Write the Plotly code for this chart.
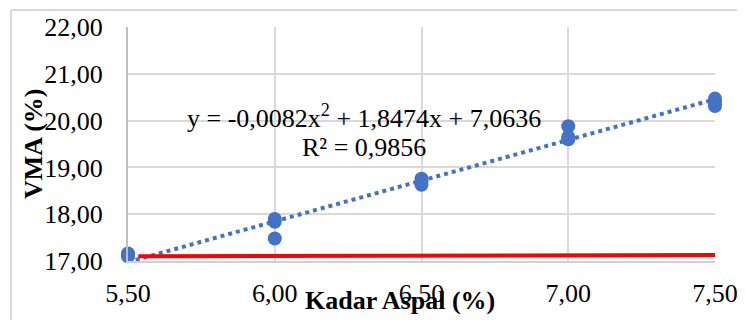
import numpy as np
import plotly.graph_objects as go

# ---- data ----
kadar_aspal = [5.5, 5.5, 5.5, 6.0, 6.0, 6.0, 6.5, 6.5, 6.5, 7.0, 7.0, 7.0, 7.5, 7.5, 7.5]
vma_values = [17.16, 17.12, 17.10, 17.90, 17.84, 17.48, 18.76, 18.70, 18.63,
              19.88, 19.65, 19.60, 20.47, 20.40, 20.31]
trend_coef = [-0.0082, 1.8474, 7.0636]        # quadratic trendline (Excel)
spec_x = [5.535, 7.5]                          # red specification line
spec_y = [17.10, 17.13]
x_ticks = [5.5, 6.0, 6.5, 7.0, 7.5]
x_tick_labels = ["5,50", "6,00", "6,50", "7,00", "7,50"]
y_ticks = [17, 18, 19, 20, 21, 22]
y_tick_labels = ["17,00", "18,00", "19,00", "20,00", "21,00", "22,00"]
eq_line1 = "y = -0,0082x<sup>2</sup> + 1,8474x + 7,0636"
eq_line2 = "R² = 0,9856"

FONT = "Liberation Serif, Times New Roman, serif"
BLUE = "#4472C4"

tx = np.linspace(min(x_ticks), max(x_ticks), 200)
ty = np.polyval(trend_coef, tx)

fig = go.Figure()
fig.add_trace(go.Scatter(x=tx, y=ty, mode="lines",
                         line=dict(color=BLUE, width=4, dash="dot"),
                         hoverinfo="skip", showlegend=False))
fig.add_trace(go.Scatter(x=kadar_aspal, y=vma_values, mode="markers",
                         marker=dict(color=BLUE, size=14, line=dict(width=0)),
                         cliponaxis=False, showlegend=False))
fig.add_trace(go.Scatter(x=spec_x, y=spec_y, mode="lines",
                         line=dict(color="#FF0000", width=4),
                         cliponaxis=False, showlegend=False))

# page body has an 8px margin: figure pixel = page pixel - 8
OFF = 8
W, H = 745, 320
P_L, P_R, P_T, P_B = 128, 715, 27, 261   # plot area in page pixels
L = P_L - OFF
T = P_T - OFF
R = W - (P_R - OFF)
B = H - (P_B - OFF)
pw, ph = W - L - R, H - T - B

def px_x(px):
    return (px - P_L) / pw

def px_y(py):
    return (P_B - py) / ph

fig.update_layout(
    width=W, height=H, autosize=False,
    margin=dict(l=L, r=R, t=T, b=B, pad=0),
    paper_bgcolor="white", plot_bgcolor="white",
    font=dict(family=FONT, size=26, color="black"),
    showlegend=False,
    xaxis=dict(range=[5.5, 7.5], tickvals=x_ticks, ticktext=x_tick_labels,
               showgrid=True, gridcolor="#d9d9d9", gridwidth=2,
               zeroline=False, showline=True, linecolor="#d0d0d0", linewidth=2,
               ticks="", ticklabelstandoff=8, automargin=False,
               tickfont=dict(family=FONT, size=26, color="black")),
    yaxis=dict(range=[17, 22], tickvals=y_ticks, ticktext=y_tick_labels,
               showgrid=True, gridcolor="#d9d9d9", gridwidth=2,
               zeroline=False, showline=True, linecolor="#bfbfbf", linewidth=2,
               ticks="", ticklabelstandoff=18, automargin=False,
               tickfont=dict(family=FONT, size=26, color="black")),
)

# outer chart border (only top/left visible in reference)
fig.add_shape(type="rect", xref="paper", yref="paper",
              x0=px_x(11), y0=px_y(360), x1=px_x(780), y1=px_y(10),
              line=dict(color="#d9d9d9", width=2), layer="below")

fig.add_annotation(text="<b>Kadar Aspal (%)</b>", xref="paper", yref="paper",
                   x=px_x(400), y=px_y(300), xanchor="center", yanchor="middle",
                   showarrow=False, font=dict(family=FONT, size=26, color="black"))
fig.add_annotation(text="<b>VMA (%)</b>", xref="paper", yref="paper",
                   x=px_x(33), y=px_y(144), xanchor="center", yanchor="middle",
                   textangle=-90, showarrow=False,
                   font=dict(family=FONT, size=26, color="black"))
fig.add_annotation(text=eq_line1, xref="paper", yref="paper",
                   x=px_x(364), y=px_y(117), xanchor="center", yanchor="middle",
                   showarrow=False, font=dict(family=FONT, size=26, color="black"))
fig.add_annotation(text=eq_line2, xref="paper", yref="paper",
                   x=px_x(364), y=px_y(147), xanchor="center", yanchor="middle",
                   showarrow=False, font=dict(family=FONT, size=26, color="black"))

fig.write_html("out.html")
